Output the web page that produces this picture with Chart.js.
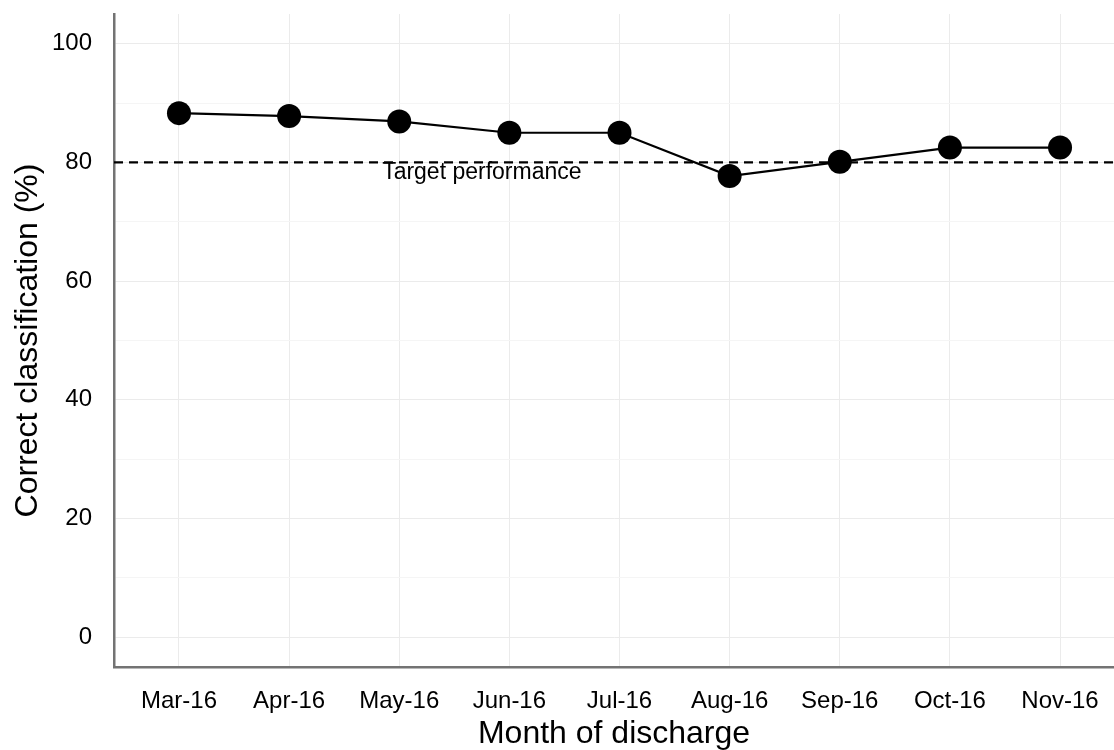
<!DOCTYPE html>
<html>
<head>
<meta charset="utf-8">
<script src="https://cdn.jsdelivr.net/npm/chart.js@4.4.1/dist/chart.umd.min.js"></script>
<style>
    html, body { margin: 0; padding: 0; background: #fff; }
    #wrap { width: 1114px; height: 750px; }
</style>
</head>
<body>
<div id="wrap"><canvas id="classChart" width="1114" height="750"></canvas></div>
<script>
const months = ['Mar-16', 'Apr-16', 'May-16', 'Jun-16', 'Jul-16', 'Aug-16', 'Sep-16', 'Oct-16', 'Nov-16'];
const correctPct = [88.3, 87.8, 86.9, 85.0, 85.0, 77.7, 80.1, 82.5, 82.5];
const yTicks = [0, 10, 20, 30, 40, 50, 60, 70, 80, 90, 100];
const targetValue = 80;
const targetLabel = 'Target performance';

const FONT = "'Liberation Sans', Arial, sans-serif";

// dashed target line + its label
const targetPlugin = {
    id: 'target',
    beforeDatasetsDraw(chart) {
        const { ctx, chartArea, scales } = chart;
        const y = scales.y.getPixelForValue(targetValue);
        ctx.save();
        ctx.strokeStyle = '#000';
        ctx.lineWidth = 2.4;
        ctx.setLineDash([9, 6]);
        ctx.beginPath();
        ctx.moveTo(chartArea.left, y);
        ctx.lineTo(chartArea.right, y);
        ctx.stroke();
        ctx.restore();
    },
    afterDatasetsDraw(chart) {
        const { ctx, scales } = chart;
        ctx.save();
        ctx.fillStyle = '#000';
        ctx.font = '23px ' + FONT;
        ctx.textAlign = 'center';
        ctx.textBaseline = 'middle';
        ctx.fillText(targetLabel, scales.x.getPixelForValue(2.75), scales.y.getPixelForValue(78.2));
        ctx.restore();
    }
};

const ctx = document.getElementById('classChart').getContext('2d');
new Chart(ctx, {
    type: 'line',
    data: {
        datasets: [{
            data: correctPct.map((v, i) => ({ x: i, y: v })),
            borderColor: '#000',
            backgroundColor: '#000',
            borderWidth: 2.2,
            pointRadius: 12,
            pointBackgroundColor: '#000',
            pointBorderWidth: 0,
            tension: 0
        }]
    },
    options: {
        responsive: false,
        animation: false,
        layout: { autoPadding: false, padding: { top: 14, right: 0, left: 0, bottom: 0 } },
        plugins: {
            legend: { display: false },
            tooltip: { enabled: false }
        },
        scales: {
            x: {
                type: 'linear',
                min: -0.59,
                max: 8.49,
                afterBuildTicks: axis => { axis.ticks = months.map((m, i) => ({ value: i })); },
                afterFit: axis => {
                    axis.height = 83;
                    axis.paddingLeft = 0;
                    axis.paddingRight = 0;
                },
                ticks: {
                    autoSkip: false,
                    maxRotation: 0,
                    padding: 20,
                    color: '#000',
                    font: { family: FONT, size: 24 },
                    callback: v => months[v]
                },
                grid: { color: '#ebebeb', lineWidth: 1, drawTicks: false },
                border: { display: true, color: '#737373', width: 2.5 },
                title: {
                    display: true,
                    text: 'Month of discharge',
                    color: '#000',
                    font: { family: FONT, size: 32, lineHeight: 1 },
                    padding: { top: 0, bottom: 0 }
                }
            },
            y: {
                min: -5,
                max: 105,
                afterBuildTicks: axis => { axis.ticks = yTicks.map(v => ({ value: v })); },
                afterFit: axis => {
                    axis.width = 114;
                    axis.paddingTop = 0;
                    axis.paddingBottom = 0;
                },
                ticks: {
                    padding: 22,
                    color: '#000',
                    font: { family: FONT, size: 24 },
                    callback: v => (v % 20 === 0 ? v : '')
                },
                grid: {
                    color: c => (c.tick && c.tick.value % 20 === 0 ? '#ebebeb' : '#f5f5f5'),
                    lineWidth: 1,
                    drawTicks: false
                },
                border: { display: true, color: '#737373', width: 2.5 },
                title: {
                    display: true,
                    text: 'Correct classification (%)',
                    color: '#000',
                    font: { family: FONT, size: 32, lineHeight: 1 },
                    padding: { top: 12, bottom: 0 }
                }
            }
        }
    },
    plugins: [targetPlugin]
});
</script>
</body>
</html>
